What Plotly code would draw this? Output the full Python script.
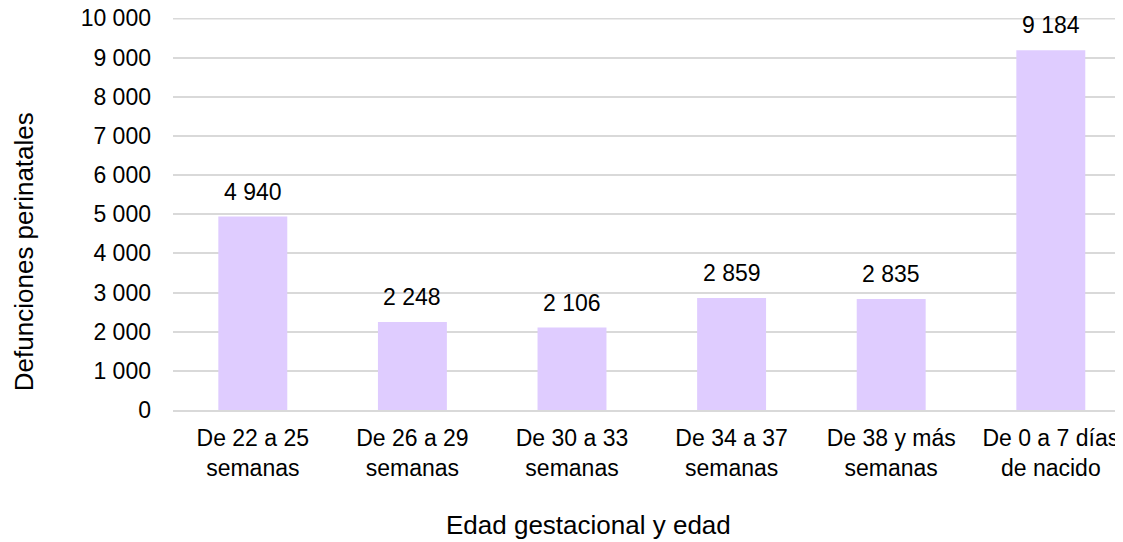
import plotly.graph_objects as go

categories = [
    "De 22 a 25<br>semanas",
    "De 26 a 29<br>semanas",
    "De 30 a 33<br>semanas",
    "De 34 a 37<br>semanas",
    "De 38 y más<br>semanas",
    "De 0 a 7 días<br>de nacido",
]
values = [4940, 2248, 2106, 2859, 2835, 9184]
y_ticks = list(range(0, 10001, 1000))
y_max = 10010

BAR = "#DFCCFF"
GRID = "#D9D9D9"
FONT = "Liberation Sans, Arial, sans-serif"

# the page has an 8px body margin; figure sized to fill the rest of the window
W, H = 1115, 534
L, R, T, B = 165, 0, 9.6, 132
pw, ph = W - L - R, H - T - B

def px_x(p):
    return (p - L) / pw

def px_y(p):
    return (H - B - p) / ph

fig = go.Figure(
    go.Bar(
        x=list(range(len(categories))),
        y=values,
        marker=dict(color=BAR, line=dict(width=0)),
        width=0.432,
        hoverinfo="skip",
    )
)

for i, v in enumerate(values):
    fig.add_annotation(
        x=i, y=v, text=f"{v:,}".replace(",", " "),
        showarrow=False, yshift=25, yanchor="middle", xanchor="center",
        font=dict(family=FONT, size=23, color="#000000"),
    )

# top gridline (drawn explicitly so it is always visible at the plot edge)
fig.add_hline(y=y_ticks[-1], line=dict(color=GRID, width=2), layer="below")

fig.add_annotation(
    x=px_x(580), y=px_y(534), xref="paper", yref="paper",
    text="Edad gestacional y edad", showarrow=False,
    xanchor="center", yanchor="bottom",
    font=dict(family=FONT, size=26, color="#000000"),
)
fig.add_annotation(
    x=px_x(-1), y=px_y(244), xref="paper", yref="paper",
    text="Defunciones perinatales", showarrow=False, textangle=-90,
    xanchor="left", yanchor="middle",
    font=dict(family=FONT, size=26, color="#000000"),
)

fig.update_layout(
    width=W, height=H,
    margin=dict(l=L, r=R, t=T, b=B, autoexpand=False),
    paper_bgcolor="white", plot_bgcolor="white",
    showlegend=False,
    separators=". ",
    font=dict(family=FONT, size=23, color="#000000"),
)
fig.update_xaxes(
    tickmode="array",
    tickvals=list(range(len(categories))),
    ticktext=categories,
    range=[-0.5, -0.5 + pw / 159.6],
    showgrid=False,
    showline=True, linecolor=GRID, linewidth=2,
    ticks="", ticklabelstandoff=6,
    tickfont=dict(family=FONT, size=23, color="#000000"),
)
fig.update_yaxes(
    range=[0, y_max],
    tickmode="array", tickvals=y_ticks,
    tickformat=",d",
    showgrid=True, gridcolor=GRID, gridwidth=2,
    zeroline=False, showline=False,
    ticks="", ticklabelstandoff=21,
    ticklabeloverflow="allow",
    tickfont=dict(family=FONT, size=23, color="#000000"),
)

fig.write_html("out.html")
